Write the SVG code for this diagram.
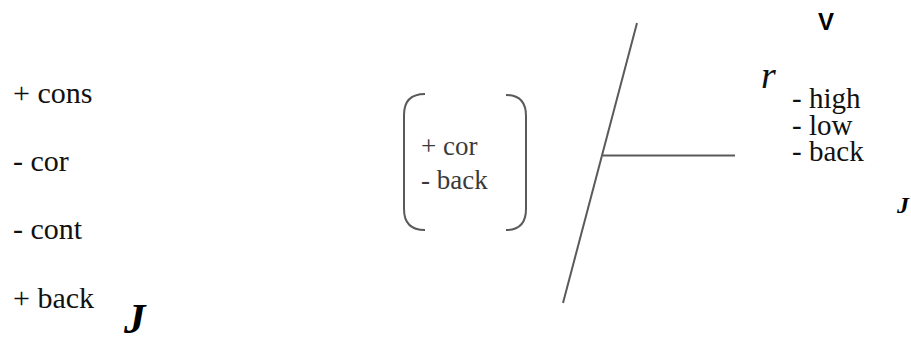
<svg xmlns="http://www.w3.org/2000/svg" width="911" height="339" viewBox="0 0 911 339">
<style>
.ln{stroke:#5a5a5a;stroke-width:2;fill:none}
</style>
<rect width="911" height="339" fill="#fff"/>
<g id="left-features" font-family="Liberation Serif" font-size="30" fill="#111">
<text x="13" y="103">+ cons</text>
<text x="13" y="171">- cor</text>
<text x="13" y="239">- cont</text>
<text x="13" y="308">+ back</text>
<text x="124" y="333" font-size="43" font-weight="bold" font-style="italic" fill="#000">J</text>
</g>
<g id="bracket" font-family="Liberation Serif" font-size="27" fill="#3a3a3a">
<path class="ln" d="M425,94 Q404,94 404,115 L404,209 Q404,230 425,230"/>
<path class="ln" d="M506,95 Q526,95 526,116 L526,209 Q526,230 506,230"/>
<text x="421" y="155">+ cor</text>
<text x="421" y="189">- back</text>
</g>
<g id="connectors">
<line class="ln" x1="637" y1="23" x2="563" y2="303"/>
<line class="ln" x1="603" y1="155.5" x2="735" y2="155.5"/>
</g>
<g id="right-features" font-family="Liberation Serif" font-size="29" fill="#111">
<text x="826" y="30" text-anchor="middle" font-family="Liberation Sans" font-weight="bold" font-size="24" fill="#000">V</text>
<text x="761" y="88" font-style="italic" font-size="38">r</text>
<text x="792" y="108">- high</text>
<text x="792" y="135">- low</text>
<text x="792" y="161">- back</text>
<text x="897" y="213" font-size="24" font-weight="bold" font-style="italic" fill="#000">J</text>
</g>
</svg>
